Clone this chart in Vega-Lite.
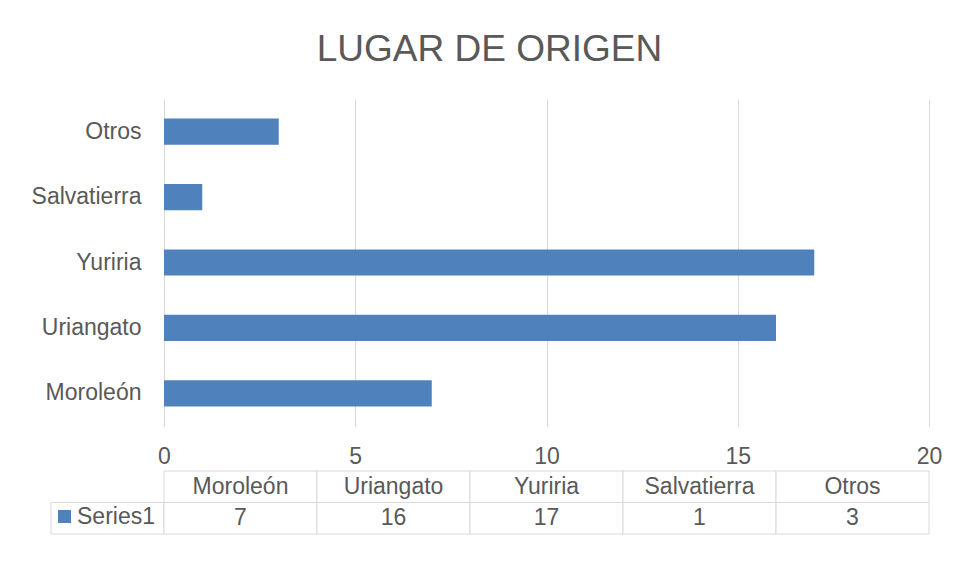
{
  "$schema": "https://vega.github.io/schema/vega-lite/v6.json",
  "background": "white",
  "padding": {"left": 31, "top": 31, "right": 10, "bottom": 10},
  "title": {"text": "LUGAR DE ORIGEN", "anchor": "middle", "frame": "bounds", "dx": 3, "fontSize": 37, "fontWeight": "normal", "font": "Liberation Sans", "color": "#595959", "offset": 30},
  "datasets": {
    "origen": [
      {"lugar": "Moroleón", "serie": "Series1", "valor": 7},
      {"lugar": "Uriangato", "serie": "Series1", "valor": 16},
      {"lugar": "Yuriria", "serie": "Series1", "valor": 17},
      {"lugar": "Salvatierra", "serie": "Series1", "valor": 1},
      {"lugar": "Otros", "serie": "Series1", "valor": 3}
    ]
  },
  "config": {"view": {"stroke": null}, "font": "Liberation Sans"},
  "columns": 2,
  "spacing": {"row": 45, "column": 0},
  "bounds": "flush",
  "concat": [
    {
      "width": 113, "height": 327,
      "data": {"values": []},
      "mark": "point"
    },
    {
      "width": 765, "height": 327,
      "data": {"name": "origen"},
      "mark": {"type": "bar"},
      "encoding": {
        "y": {"field": "lugar", "type": "nominal", "sort": ["Otros", "Salvatierra", "Yuriria", "Uriangato", "Moroleón"],
          "scale": {"paddingInner": 0.6, "paddingOuter": 0.3},
          "axis": {"title": null, "domain": false, "ticks": false, "tickSize": 0, "labelPadding": 23, "labelFontSize": 23, "labelColor": "#595959", "labelFont": "Liberation Sans"}},
        "x": {"field": "valor", "type": "quantitative", "scale": {"domain": [0, 20], "nice": false},
          "axis": {"title": null, "values": [0, 5, 10, 15, 20], "domain": false, "ticks": false, "tickSize": 0, "grid": true, "gridColor": "#d9d9d9", "gridWidth": 1, "labelPadding": 19, "labelFontSize": 23, "labelColor": "#595959", "labelFont": "Liberation Sans", "labelFlush": false}},
        "color": {"field": "serie", "type": "nominal", "scale": {"range": ["#4f81bd"]},
          "legend": {"title": null, "orient": "none", "legendX": 2, "legendY": 406, "padding": 0, "symbolType": "square", "symbolSize": 169, "symbolStrokeWidth": 0, "labelFontSize": 23, "labelColor": "#595959", "labelFont": "Liberation Sans", "labelOffset": 1}}
      }
    },
    {
      "width": 113, "height": 63,
      "data": {"name": "origen"},
      "transform": [{"aggregate": [{"op": "count", "as": "n"}], "groupby": ["serie"]}],
      "mark": {"type": "rect", "fill": null, "filled": false, "stroke": "#d9d9d9", "strokeWidth": 1},
      "encoding": {
        "y": {"field": "serie", "type": "nominal", "scale": {"domain": ["Lugar", "Series1"], "paddingInner": 0, "paddingOuter": 0}, "axis": null}
      }
    },
    {
      "width": 765, "height": 63,
      "data": {"name": "origen"},
      "encoding": {
        "x": {"field": "lugar", "type": "nominal", "sort": ["Moroleón", "Uriangato", "Yuriria", "Salvatierra", "Otros"], "scale": {"paddingInner": 0, "paddingOuter": 0}, "axis": null}
      },
      "layer": [
        {
          "mark": {"type": "rect", "fill": "white", "stroke": "#d9d9d9", "strokeWidth": 1},
          "encoding": {"y": {"datum": "Lugar", "type": "nominal", "scale": {"domain": ["Lugar", "Series1"], "paddingInner": 0, "paddingOuter": 0}, "axis": null}}
        },
        {
          "mark": {"type": "rect", "fill": "white", "stroke": "#d9d9d9", "strokeWidth": 1},
          "encoding": {"y": {"field": "serie", "type": "nominal"}}
        },
        {
          "mark": {"type": "text", "fontSize": 23, "color": "#595959", "font": "Liberation Sans", "baseline": "middle", "align": "center"},
          "encoding": {"y": {"datum": "Lugar", "type": "nominal"}, "text": {"field": "lugar"}}
        },
        {
          "mark": {"type": "text", "fontSize": 23, "color": "#595959", "font": "Liberation Sans", "baseline": "middle", "align": "center"},
          "encoding": {"y": {"field": "serie", "type": "nominal"}, "text": {"field": "valor"}}
        }
      ]
    }
  ]
}
